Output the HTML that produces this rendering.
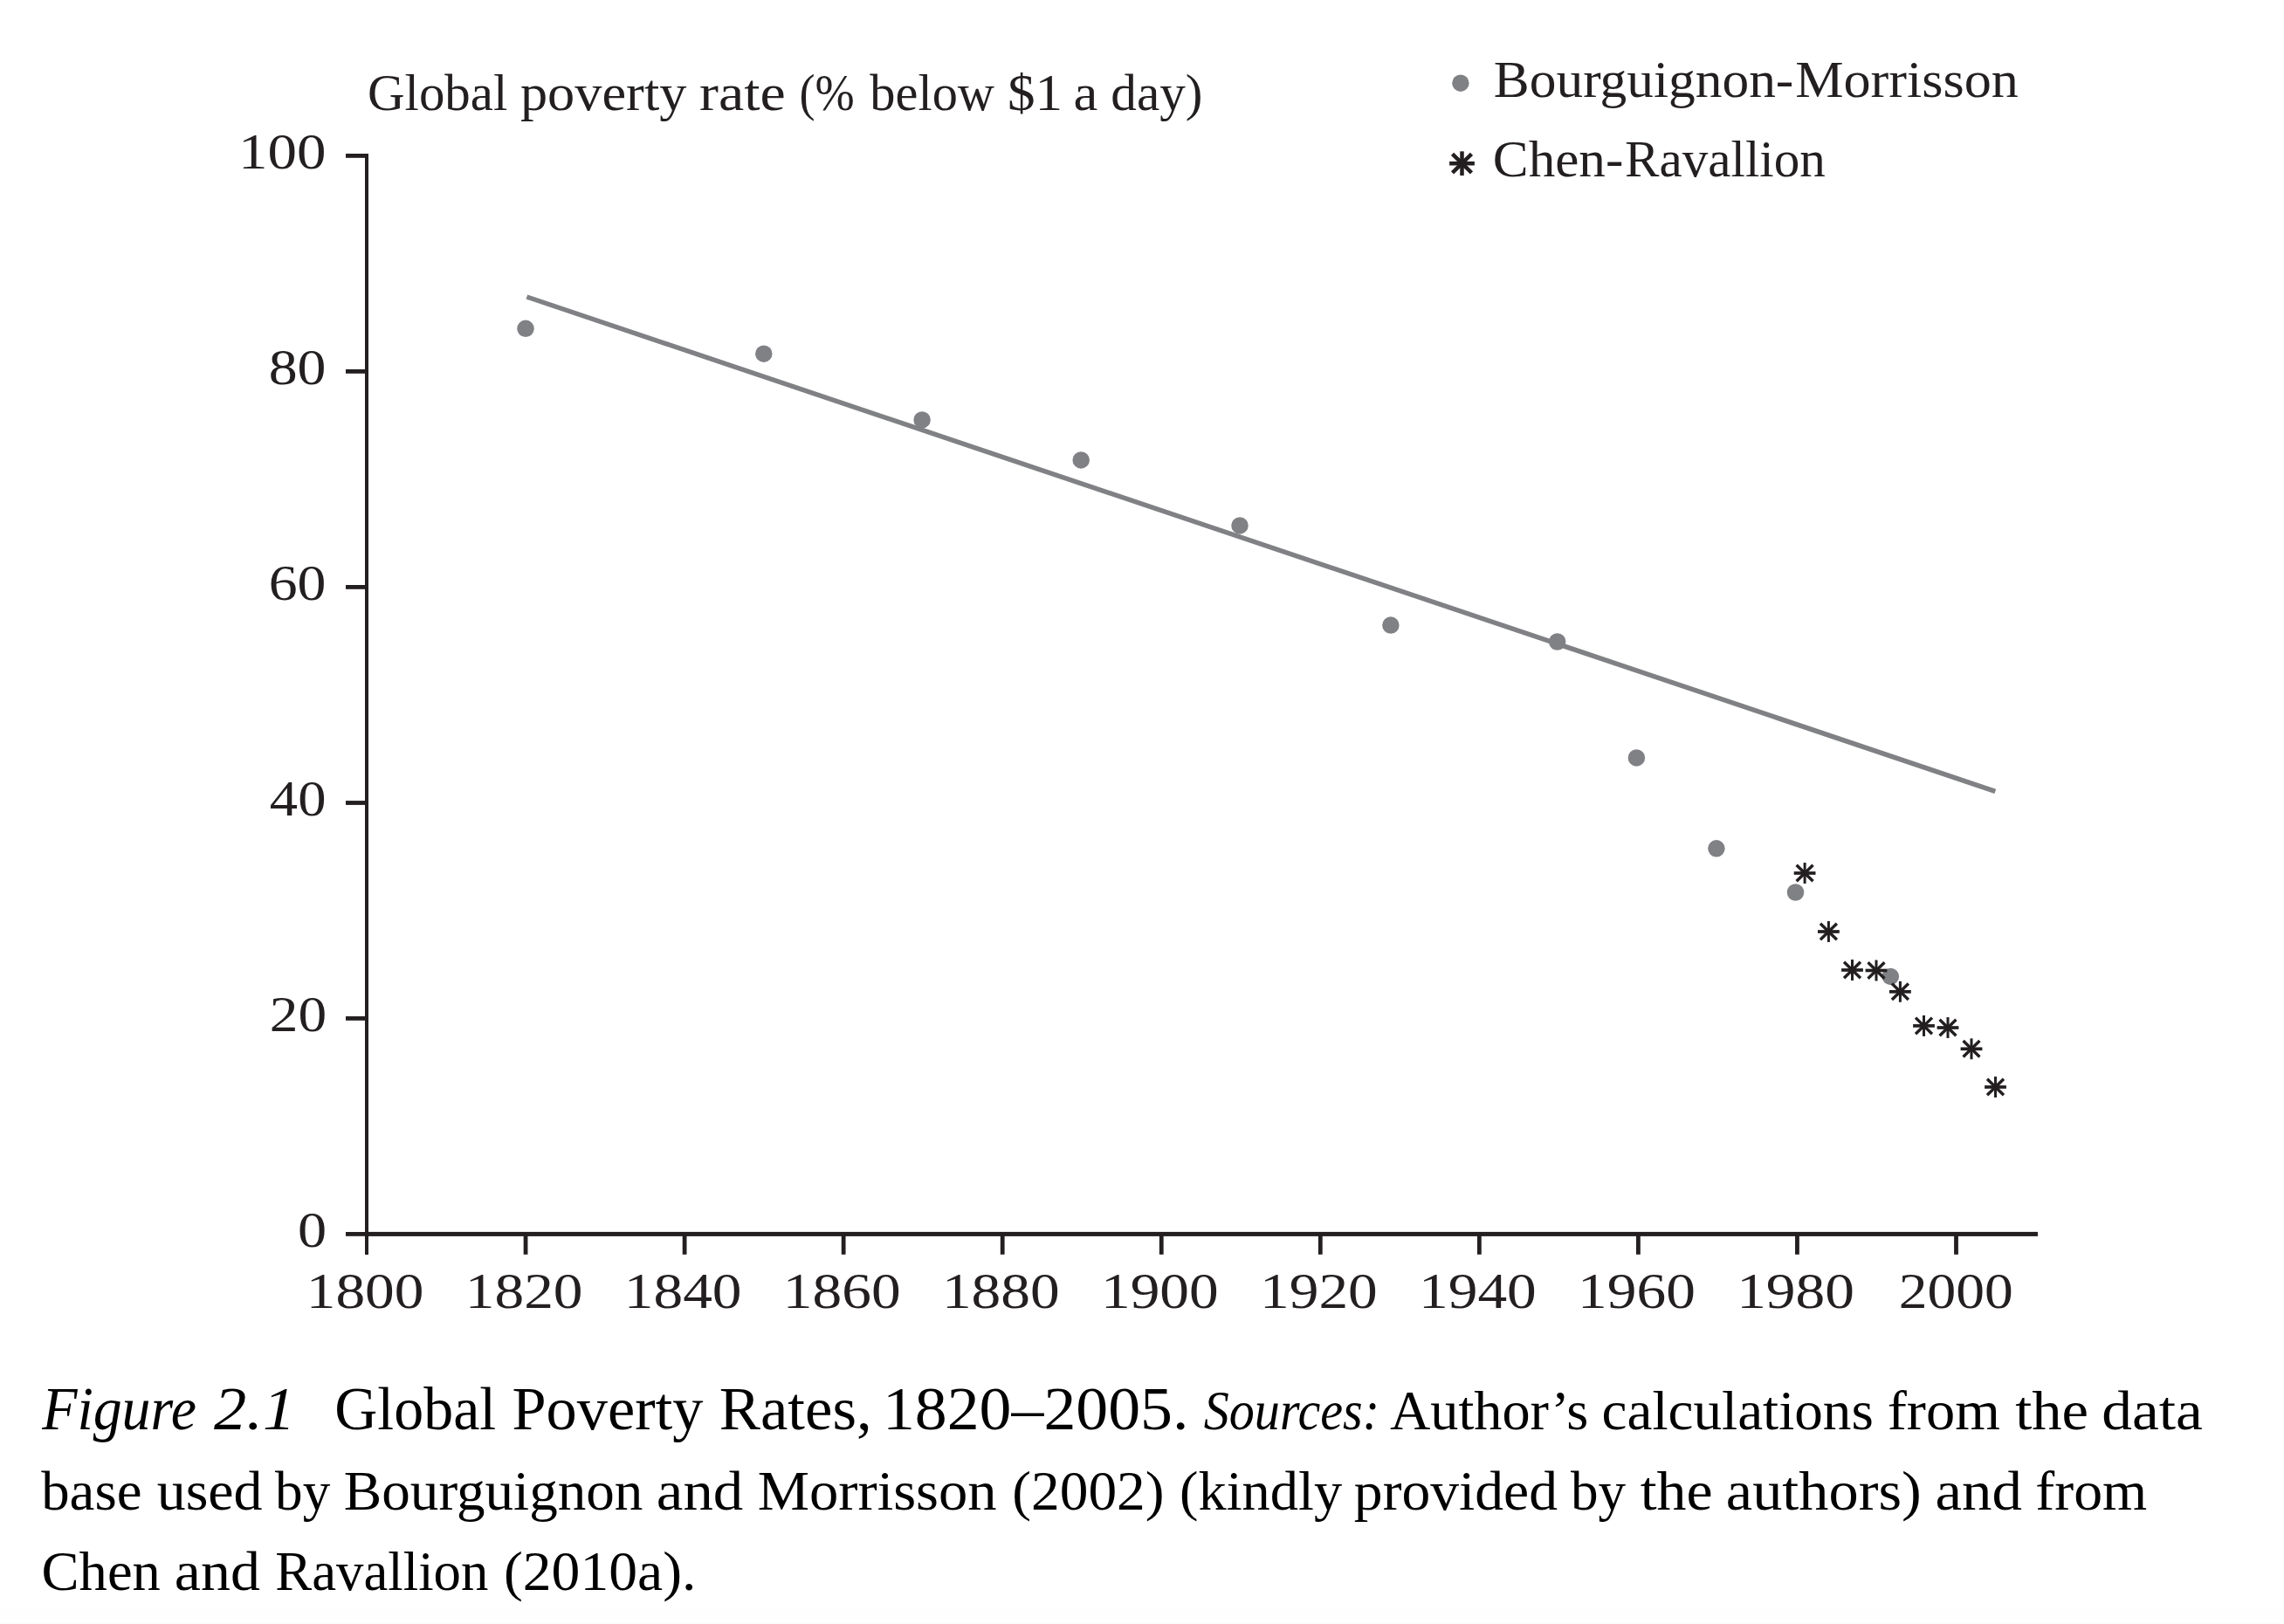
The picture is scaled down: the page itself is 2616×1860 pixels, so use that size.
<!DOCTYPE html>
<html><head><meta charset="utf-8"><title>Figure 2.1 Global Poverty Rates, 1820-2005</title>
<style>
html,body{margin:0;padding:0;background:#fff;}
body{width:2616px;height:1860px;overflow:hidden;position:relative;}
svg{position:absolute;left:0;top:0;display:block;}
svg text{font-family:'Liberation Serif', serif;}
</style></head><body>
<svg width="2616" height="1860" viewBox="0 0 2616 1860">
<rect x="0" y="1842" width="2616" height="18" fill="#fefefe"/><rect x="0" y="1859" width="2616" height="1" fill="#fbfbfb"/>
<rect x="418" y="176" width="4" height="1261" fill="#231f20"/>
<rect x="418" y="1410.9" width="1916" height="5" fill="#231f20"/>
<rect x="396" y="1411.00" width="24" height="4.8" fill="#231f20"/>
<rect x="396" y="1164.00" width="24" height="4.8" fill="#231f20"/>
<rect x="396" y="917.10" width="24" height="4.8" fill="#231f20"/>
<rect x="396" y="670.00" width="24" height="4.8" fill="#231f20"/>
<rect x="396" y="423.00" width="24" height="4.8" fill="#231f20"/>
<rect x="396" y="176.00" width="24" height="4.8" fill="#231f20"/>
<rect x="599.65" y="1413" width="4.8" height="23.8" fill="#231f20"/>
<rect x="781.70" y="1413" width="4.8" height="23.8" fill="#231f20"/>
<rect x="963.75" y="1413" width="4.8" height="23.8" fill="#231f20"/>
<rect x="1145.80" y="1413" width="4.8" height="23.8" fill="#231f20"/>
<rect x="1327.85" y="1413" width="4.8" height="23.8" fill="#231f20"/>
<rect x="1509.90" y="1413" width="4.8" height="23.8" fill="#231f20"/>
<rect x="1691.95" y="1413" width="4.8" height="23.8" fill="#231f20"/>
<rect x="1874.00" y="1413" width="4.8" height="23.8" fill="#231f20"/>
<rect x="2056.05" y="1413" width="4.8" height="23.8" fill="#231f20"/>
<rect x="2238.10" y="1413" width="4.8" height="23.8" fill="#231f20"/>
<line x1="603.4" y1="340.0" x2="2285.3" y2="906.3" stroke="#808185" stroke-width="5.5"/>
<circle cx="602.00" cy="376.30" r="9.75" fill="#808185"/>
<circle cx="874.80" cy="405.20" r="9.75" fill="#808185"/>
<circle cx="1056.10" cy="480.90" r="9.75" fill="#808185"/>
<circle cx="1238.20" cy="526.90" r="9.75" fill="#808185"/>
<circle cx="1420.00" cy="601.90" r="9.75" fill="#808185"/>
<circle cx="1592.90" cy="716.10" r="9.75" fill="#808185"/>
<circle cx="1783.70" cy="735.00" r="9.75" fill="#808185"/>
<circle cx="1874.40" cy="867.90" r="9.75" fill="#808185"/>
<circle cx="1965.90" cy="971.80" r="9.75" fill="#808185"/>
<circle cx="2056.50" cy="1022.00" r="9.75" fill="#808185"/>
<circle cx="2165.30" cy="1118.40" r="9.75" fill="#808185"/>
<path d="M2057.64 990.73L2076.56 1009.27M2057.64 1009.27L2076.56 990.73" stroke="#231f20" stroke-width="3.45"/><path d="M2067.10 988.04V1011.96" stroke="#231f20" stroke-width="3.00"/><path d="M2054.70 1000.00H2079.50" stroke="#231f20" stroke-width="3.70"/>
<path d="M2084.94 1057.73L2103.86 1076.27M2084.94 1076.27L2103.86 1057.73" stroke="#231f20" stroke-width="3.45"/><path d="M2094.40 1055.04V1078.96" stroke="#231f20" stroke-width="3.00"/><path d="M2082.00 1067.00H2106.80" stroke="#231f20" stroke-width="3.70"/>
<path d="M2112.04 1101.73L2130.96 1120.27M2112.04 1120.27L2130.96 1101.73" stroke="#231f20" stroke-width="3.45"/><path d="M2121.50 1099.04V1122.96" stroke="#231f20" stroke-width="3.00"/><path d="M2109.10 1111.00H2133.90" stroke="#231f20" stroke-width="3.70"/>
<path d="M2139.54 1102.23L2158.46 1120.77M2139.54 1120.77L2158.46 1102.23" stroke="#231f20" stroke-width="3.45"/><path d="M2149.00 1099.54V1123.46" stroke="#231f20" stroke-width="3.00"/><path d="M2136.60 1111.50H2161.40" stroke="#231f20" stroke-width="3.70"/>
<path d="M2166.94 1126.53L2185.86 1145.07M2166.94 1145.07L2185.86 1126.53" stroke="#231f20" stroke-width="3.45"/><path d="M2176.40 1123.84V1147.76" stroke="#231f20" stroke-width="3.00"/><path d="M2164.00 1135.80H2188.80" stroke="#231f20" stroke-width="3.70"/>
<path d="M2194.04 1165.63L2212.96 1184.17M2194.04 1184.17L2212.96 1165.63" stroke="#231f20" stroke-width="3.45"/><path d="M2203.50 1162.94V1186.86" stroke="#231f20" stroke-width="3.00"/><path d="M2191.10 1174.90H2215.90" stroke="#231f20" stroke-width="3.70"/>
<path d="M2221.54 1167.73L2240.46 1186.27M2221.54 1186.27L2240.46 1167.73" stroke="#231f20" stroke-width="3.45"/><path d="M2231.00 1165.04V1188.96" stroke="#231f20" stroke-width="3.00"/><path d="M2218.60 1177.00H2243.40" stroke="#231f20" stroke-width="3.70"/>
<path d="M2248.54 1192.03L2267.46 1210.57M2248.54 1210.57L2267.46 1192.03" stroke="#231f20" stroke-width="3.45"/><path d="M2258.00 1189.34V1213.26" stroke="#231f20" stroke-width="3.00"/><path d="M2245.60 1201.30H2270.40" stroke="#231f20" stroke-width="3.70"/>
<path d="M2276.04 1235.73L2294.96 1254.27M2276.04 1254.27L2294.96 1235.73" stroke="#231f20" stroke-width="3.45"/><path d="M2285.50 1233.04V1256.96" stroke="#231f20" stroke-width="3.00"/><path d="M2273.10 1245.00H2297.90" stroke="#231f20" stroke-width="3.70"/>
<circle cx="1672.9" cy="95.2" r="9.7" fill="#808185"/>
<path d="M1663.53 176.45L1685.47 197.95M1663.53 197.95L1685.47 176.45" stroke="#231f20" stroke-width="4.52"/><path d="M1674.50 173.33V201.07" stroke="#231f20" stroke-width="4.52"/><path d="M1660.12 187.20H1688.88" stroke="#231f20" stroke-width="4.58"/>
<text class="ttl" y="126.30" font-size="60" fill="#231f20"><tspan x="421.04" textLength="160.22" lengthAdjust="spacingAndGlyphs">Global</tspan> <tspan x="595.90" textLength="190.50" lengthAdjust="spacingAndGlyphs">poverty</tspan> <tspan x="801.10" textLength="98.69" lengthAdjust="spacingAndGlyphs">rate</tspan> <tspan x="915.49" textLength="63.30" lengthAdjust="spacingAndGlyphs">(%</tspan> <tspan x="996.30" textLength="142.75" lengthAdjust="spacingAndGlyphs">below</tspan> <tspan x="1153.99" textLength="63.27" lengthAdjust="spacingAndGlyphs">$1</tspan> <tspan x="1229.61" textLength="27.85" lengthAdjust="spacingAndGlyphs">a</tspan> <tspan x="1272.33" textLength="105.12" lengthAdjust="spacingAndGlyphs">day)</tspan></text>
<text class="leg" y="110.90" font-size="60" fill="#231f20"><tspan x="1710.78" textLength="343.55" lengthAdjust="spacingAndGlyphs">Bourguignon-</tspan><tspan x="2056.16" textLength="255.74" lengthAdjust="spacingAndGlyphs">Morrisson</tspan></text>
<text class="leg" y="202.40" font-size="60" fill="#231f20"><tspan x="1709.86" textLength="149.46" lengthAdjust="spacingAndGlyphs">Chen-</tspan><tspan x="1861.01" textLength="229.89" lengthAdjust="spacingAndGlyphs">Ravallion</tspan></text>
<text class="ax" x="341.10" y="1427.90" font-size="57.5" fill="#231f20" textLength="33.12" lengthAdjust="spacingAndGlyphs">0</text>
<text class="ax" x="308.83" y="1180.90" font-size="57.5" fill="#231f20" textLength="65.36" lengthAdjust="spacingAndGlyphs">20</text>
<text class="ax" x="308.88" y="934.00" font-size="57.5" fill="#231f20" textLength="64.59" lengthAdjust="spacingAndGlyphs">40</text>
<text class="ax" x="307.71" y="686.90" font-size="57.5" fill="#231f20" textLength="65.79" lengthAdjust="spacingAndGlyphs">60</text>
<text class="ax" x="307.71" y="439.90" font-size="57.5" fill="#231f20" textLength="65.79" lengthAdjust="spacingAndGlyphs">80</text>
<text class="ax" x="273.08" y="192.90" font-size="57.5" fill="#231f20" textLength="100.46" lengthAdjust="spacingAndGlyphs">100</text>
<text class="ax" x="350.74" y="1497.60" font-size="57.5" fill="#231f20" textLength="134.71" lengthAdjust="spacingAndGlyphs">1800</text>
<text class="ax" x="532.79" y="1497.60" font-size="57.5" fill="#231f20" textLength="134.71" lengthAdjust="spacingAndGlyphs">1820</text>
<text class="ax" x="714.84" y="1497.60" font-size="57.5" fill="#231f20" textLength="134.71" lengthAdjust="spacingAndGlyphs">1840</text>
<text class="ax" x="896.89" y="1497.60" font-size="57.5" fill="#231f20" textLength="134.71" lengthAdjust="spacingAndGlyphs">1860</text>
<text class="ax" x="1078.94" y="1497.60" font-size="57.5" fill="#231f20" textLength="134.71" lengthAdjust="spacingAndGlyphs">1880</text>
<text class="ax" x="1260.99" y="1497.60" font-size="57.5" fill="#231f20" textLength="134.71" lengthAdjust="spacingAndGlyphs">1900</text>
<text class="ax" x="1443.04" y="1497.60" font-size="57.5" fill="#231f20" textLength="134.71" lengthAdjust="spacingAndGlyphs">1920</text>
<text class="ax" x="1625.09" y="1497.60" font-size="57.5" fill="#231f20" textLength="134.71" lengthAdjust="spacingAndGlyphs">1940</text>
<text class="ax" x="1807.14" y="1497.60" font-size="57.5" fill="#231f20" textLength="134.71" lengthAdjust="spacingAndGlyphs">1960</text>
<text class="ax" x="1989.19" y="1497.60" font-size="57.5" fill="#231f20" textLength="134.71" lengthAdjust="spacingAndGlyphs">1980</text>
<text class="ax" x="2174.82" y="1497.60" font-size="57.5" fill="#231f20" textLength="131.07" lengthAdjust="spacingAndGlyphs">2000</text>
<text class="cap" y="1637.30" font-size="69" fill="#000"><tspan x="48.15" textLength="176.84" lengthAdjust="spacingAndGlyphs" font-style="italic">Figure</tspan> <tspan x="245.10" textLength="93.12" lengthAdjust="spacingAndGlyphs" font-style="italic">2.1</tspan> <tspan x="383.33" textLength="184.82" lengthAdjust="spacingAndGlyphs">Global</tspan> <tspan x="586.48" textLength="218.91" lengthAdjust="spacingAndGlyphs">Poverty</tspan> <tspan x="823.77" textLength="174.88" lengthAdjust="spacingAndGlyphs">Rates,</tspan> <tspan x="1010.99" textLength="350.36" lengthAdjust="spacingAndGlyphs">1820–2005.</tspan> <tspan x="1378.70" textLength="201.32" lengthAdjust="spacingAndGlyphs" font-size="64" font-style="italic">Sources:</tspan> <tspan x="1591.90" textLength="227.31" lengthAdjust="spacingAndGlyphs" font-size="64">Author’s</tspan> <tspan x="1834.56" textLength="311.28" lengthAdjust="spacingAndGlyphs" font-size="64">calculations</tspan> <tspan x="2161.76" textLength="129.15" lengthAdjust="spacingAndGlyphs" font-size="64">from</tspan> <tspan x="2308.20" textLength="83.81" lengthAdjust="spacingAndGlyphs" font-size="64">the</tspan> <tspan x="2407.23" textLength="115.61" lengthAdjust="spacingAndGlyphs" font-size="64">data</tspan></text>
<text class="cap" y="1728.50" font-size="64" fill="#000"><tspan x="47.20" textLength="115.22" lengthAdjust="spacingAndGlyphs">base</tspan> <tspan x="179.70" textLength="120.90" lengthAdjust="spacingAndGlyphs">used</tspan> <tspan x="315.10" textLength="63.10" lengthAdjust="spacingAndGlyphs">by</tspan> <tspan x="393.88" textLength="342.52" lengthAdjust="spacingAndGlyphs">Bourguignon</tspan> <tspan x="751.85" textLength="99.35" lengthAdjust="spacingAndGlyphs">and</tspan> <tspan x="867.66" textLength="274.04" lengthAdjust="spacingAndGlyphs">Morrisson</tspan> <tspan x="1159.26" textLength="174.31" lengthAdjust="spacingAndGlyphs">(2002)</tspan> <tspan x="1351.09" textLength="186.01" lengthAdjust="spacingAndGlyphs">(kindly</tspan> <tspan x="1550.88" textLength="233.12" lengthAdjust="spacingAndGlyphs">provided</tspan> <tspan x="1798.90" textLength="63.10" lengthAdjust="spacingAndGlyphs">by</tspan> <tspan x="1878.70" textLength="82.89" lengthAdjust="spacingAndGlyphs">the</tspan> <tspan x="1976.86" textLength="223.90" lengthAdjust="spacingAndGlyphs">authors)</tspan> <tspan x="2216.55" textLength="99.45" lengthAdjust="spacingAndGlyphs">and</tspan> <tspan x="2331.37" textLength="127.93" lengthAdjust="spacingAndGlyphs">from</tspan></text>
<text class="cap" y="1820.60" font-size="64" fill="#000"><tspan x="47.58" textLength="136.22" lengthAdjust="spacingAndGlyphs">Chen</tspan> <tspan x="199.88" textLength="98.12" lengthAdjust="spacingAndGlyphs">and</tspan> <tspan x="315.32" textLength="244.08" lengthAdjust="spacingAndGlyphs">Ravallion</tspan> <tspan x="576.95" textLength="220.55" lengthAdjust="spacingAndGlyphs">(2010a).</tspan></text>
</svg>
</body></html>
